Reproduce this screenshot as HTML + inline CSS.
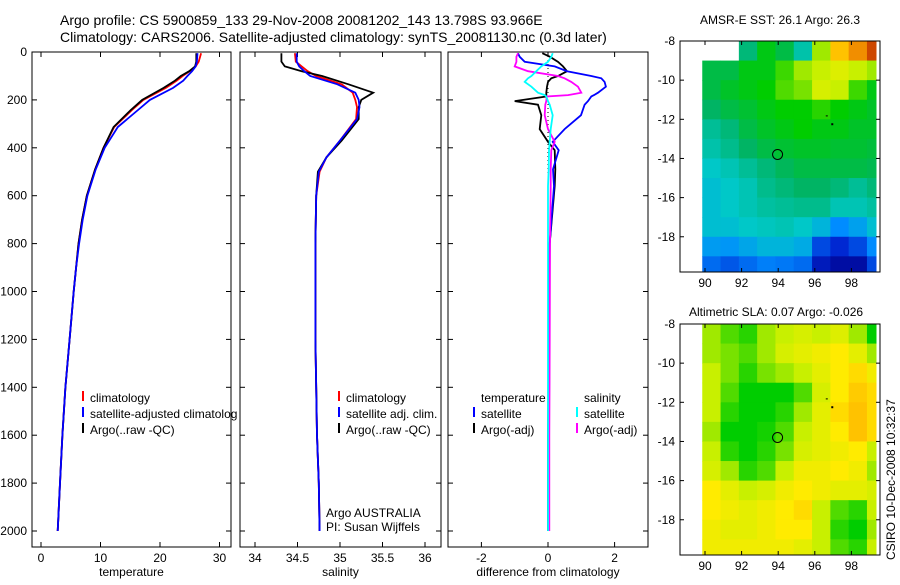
<!DOCTYPE html>
<html><head><meta charset="utf-8"><style>
body{margin:0;background:#fff;}
svg text{font-family:"Liberation Sans",sans-serif;font-size:12px;fill:#000;}
</style></head><body>
<svg id="fig" width="900" height="580" xmlns="http://www.w3.org/2000/svg">
<text x="60" y="25" style="font-size:14px">Argo profile: CS 5900859_133 29-Nov-2008 20081202_143 13.798S 93.966E</text>
<text x="60" y="42" style="font-size:14px">Climatology: CARS2006. Satellite-adjusted climatology: synTS_20081130.nc (0.3d later)</text>
<text x="780" y="24" text-anchor="middle">AMSR-E SST: 26.1 Argo: 26.3</text>
<text x="776" y="316" text-anchor="middle">Altimetric SLA: 0.07 Argo: -0.026</text>
<text transform="translate(895,560) rotate(-90)">CSIRO 10-Dec-2008 10:32:37</text>
</svg>
<script>
const depths=[5,40,60,80,100,120,150,200,242,313,400,490,600,700,800,900,1000,1200,1400,1600,1800,2000];
const tClim=[26.9,26.5,26.0,25.0,23.8,22.8,21.0,17.2,15.3,12.3,10.5,9.1,7.7,6.9,6.3,5.9,5.5,4.8,4.1,3.6,3.2,2.8];
const tArgo=[26.1,26.1,25.9,24.9,23.5,22.5,20.6,17.0,15.1,12.2,10.5,9.1,7.7,6.9,6.3,5.9,5.5,4.8,4.1,3.6,3.2,2.8];
const tSat=[26.3,26.2,26.0,25.4,24.6,23.9,22.2,18.3,16.3,12.9,10.7,9.2,7.8,7.0,6.4,5.9,5.5,4.8,4.1,3.6,3.2,2.8];
const sDepths=[5,40,60,80,100,135,170,200,230,280,370,440,500,600,800,1000,1200,1400,1600,1800,2000];
const sArgo=[34.31,34.31,34.35,34.55,34.79,35.10,35.39,35.25,35.22,35.22,35.02,34.84,34.74,34.72,34.71,34.71,34.71,34.72,34.73,34.75,34.76];
const sClim=[34.47,34.48,34.55,34.62,34.72,35.02,35.15,35.18,35.2,35.19,35.0,34.84,34.76,34.72,34.71,34.71,34.71,34.72,34.73,34.75,34.76];
const sSat=[34.49,34.49,34.52,34.58,34.65,34.97,35.18,35.22,35.23,35.2,35.0,34.84,34.75,34.72,34.71,34.71,34.71,34.72,34.73,34.75,34.76];
const dDepths=[5,20,41,60,80,100,110,125,145,170,180,186,205,220,264,322,375,410,490,560,800,1200,1600,2000];
const dTsat=[-0.9,-0.85,-0.7,0.2,0.57,1.3,1.6,1.7,1.74,1.5,1.38,1.3,1.2,1.1,0.99,0.5,0.14,0.32,0.15,0.18,0.05,0.04,0.03,0.03];
const dTargo=[-0.17,0.06,0.3,0.45,0.57,0.3,0.1,0.0,-0.03,-0.05,-0.05,-0.05,-1.0,-0.3,-0.2,-0.25,0.0,0.2,0.22,0.2,0.05,0.02,0.0,0.0];
const dSargo=[-0.9,-0.95,-0.95,-1.0,-0.6,0.3,0.5,0.7,0.9,1.0,0.6,-0.04,-0.05,-0.08,-0.1,0.0,0.2,0.1,0.08,0.08,0.06,0.05,0.04,0.04];
const dSsat=[0.14,0.1,0.0,-0.2,-0.35,-0.5,-0.6,-0.7,-0.5,-0.3,-0.1,-0.05,0.0,0.05,0.14,0.08,0.05,0.03,0.02,0.0,0.0,0.0,0.0,0.0];
const depthTicks=[0,200,400,600,800,1000,1200,1400,1600,1800,2000];
const tTicks=[0,10,20,30], sTicks=[34,34.5,35,35.5,36], dTicks=[-2,0,2];
const lonTicks=[90,92,94,96,98], latTicks=[-8,-10,-12,-14,-16,-18];
const mapLons=[90,91,92,93,94,95,96,97,98,99];
const mapLats=[-8,-9,-10,-11,-12,-13,-14,-15,-16,-17,-18,-19];
const sst=[
[null,null,0.5,0.6,0.55,0.45,0.7,0.85,0.9,0.95],
[0.55,0.55,0.6,0.6,0.65,0.7,0.72,0.75,0.72,0.7],
[0.55,0.58,0.6,0.62,0.66,0.68,0.74,0.72,0.65,0.6],
[0.52,0.55,0.57,0.6,0.62,0.62,0.64,0.62,0.6,0.58],
[0.47,0.5,0.55,0.58,0.6,0.62,0.6,0.6,0.58,0.58],
[0.45,0.48,0.52,0.55,0.57,0.58,0.58,0.57,0.57,0.56],
[0.42,0.44,0.47,0.5,0.53,0.55,0.55,0.55,0.55,0.54],
[0.4,0.42,0.44,0.48,0.5,0.52,0.52,0.5,0.47,0.5],
[0.4,0.42,0.44,0.46,0.47,0.48,0.48,0.44,0.44,0.46],
[0.4,0.4,0.42,0.43,0.44,0.42,0.38,0.3,0.34,0.4],
[0.33,0.32,0.35,0.38,0.38,0.36,0.2,0.15,0.2,0.3],
[0.25,0.22,0.25,0.28,0.27,0.25,0.1,0.05,0.05,0.2]];
const sla=[
[0.7,0.66,0.64,0.7,0.72,0.74,0.72,0.75,0.7,0.62],
[0.7,0.68,0.66,0.7,0.74,0.76,0.78,0.8,0.76,0.7],
[0.72,0.68,0.64,0.68,0.7,0.72,0.76,0.8,0.82,0.78],
[0.72,0.66,0.62,0.62,0.62,0.66,0.74,0.8,0.84,0.82],
[0.72,0.64,0.62,0.62,0.64,0.7,0.76,0.82,0.85,0.82],
[0.7,0.62,0.62,0.63,0.66,0.72,0.76,0.8,0.85,0.82],
[0.72,0.64,0.62,0.64,0.68,0.74,0.76,0.78,0.8,0.72],
[0.74,0.7,0.64,0.66,0.72,0.78,0.78,0.8,0.78,0.7],
[0.8,0.76,0.72,0.74,0.78,0.8,0.78,0.76,0.76,0.74],
[0.8,0.78,0.76,0.78,0.8,0.82,0.72,0.66,0.64,0.72],
[0.78,0.76,0.76,0.78,0.8,0.8,0.72,0.64,0.62,0.7],
[0.78,0.78,0.78,0.78,0.78,0.76,0.72,0.66,0.64,0.72]];
const argoLon=93.966, argoLat=-13.798;

const svg=document.getElementById('fig');
const NS='http://www.w3.org/2000/svg';
function mk(tag,attrs,parent){const e=document.createElementNS(NS,tag);for(const k in attrs)e.setAttribute(k,attrs[k]);(parent||svg).appendChild(e);return e;}
const yD=d=>52+d*0.2395;
const panels=[
 {x0:32,x1:231,xs:v=>41+v*5.95,ticks:tTicks,lab:'temperature',name:'temperature'},
 {x0:240,x1:441,xs:v=>255+(v-34)*85,ticks:sTicks,lab:'salinity',name:'salinity'},
 {x0:448,x1:648,xs:v=>548+v*33.3,ticks:dTicks,lab:'difference from climatology',name:'difference'}];
panels.forEach((p,i)=>{
 const g=mk('g',{});
 
 
 const r=mk('rect',{x:p.x0,y:52,width:p.x1-p.x0,height:495,fill:'none',stroke:'#000'},g);
 
 
 p.ticks.forEach(t=>{const x=p.xs(t);
  mk('line',{x1:x,x2:x,y1:52,y2:57,stroke:'#000'},g);mk('line',{x1:x,x2:x,y1:547,y2:542,stroke:'#000'},g);
  const tx=mk('text',{x:x,y:562,'text-anchor':'middle'},g);tx.textContent=t;
  
  });
 depthTicks.forEach(d=>{const y=yD(d);
  mk('line',{x1:p.x0,x2:p.x0+5,y1:y,y2:y,stroke:'#000'},g);mk('line',{x1:p.x1,x2:p.x1-5,y1:y,y2:y,stroke:'#000'},g);
  if(i==0){const tx=mk('text',{x:27,y:y+4,'text-anchor':'end'},g);tx.textContent=d;
  
  }});
 const xl=mk('text',{x:(p.x0+p.x1)/2,y:576,'text-anchor':'middle'},g);xl.textContent=p.lab;
 
 
});
function line(ds,vals,xs,col,name){
 const pts=ds.map((d,k)=>xs(vals[k]).toFixed(1)+','+yD(d).toFixed(1)).join(' ');
 const l=mk('polyline',{points:pts,fill:'none',stroke:col,'stroke-width':1.8});
 
 
}
const P=panels;
line(depths,tClim,P[0].xs,'#f00','temp-climatology-line');
line(depths,tArgo,P[0].xs,'#000','temp-argo-line');
line(depths,tSat,P[0].xs,'#00f','temp-satellite-line');
line(sDepths,sClim,P[1].xs,'#f00','sal-climatology-line');
line(sDepths,sArgo,P[1].xs,'#000','sal-argo-line');
line(sDepths,sSat,P[1].xs,'#00f','sal-satellite-line');
const z=mk('line',{x1:P[2].xs(0),x2:P[2].xs(0),y1:52,y2:531,stroke:'#000','stroke-dasharray':'1,3'});


line(dDepths,dTargo,P[2].xs,'#000','diff-temp-argo-line');
line(dDepths,dTsat,P[2].xs,'#00f','diff-temp-satellite-line');
line(dDepths,dSargo,P[2].xs,'#f0f','diff-sal-argo-line');
line(dDepths,dSsat,P[2].xs,'#0ff','diff-sal-satellite-line');
function leg(mx,y,col,txt,name){
 if(col)mk('line',{x1:mx,x2:mx,y1:y-11,y2:y-1,stroke:col,'stroke-width':2});
 const t=mk('text',{x:mx+7,y:y});t.textContent=txt;
 
 
}
leg(83,402,'#f00','climatology','legend-climatology');
leg(83,418,'#00f','satellite-adjusted climatolog','legend-satellite-adjusted');
leg(83,434,'#000','Argo(..raw -QC)','legend-argo');
leg(339,402,'#f00','climatology','legend-sal-climatology');
leg(339,418,'#00f','satellite adj. clim.','legend-sal-satellite');
leg(339,434,'#000','Argo(..raw -QC)','legend-sal-argo');
leg(319,517,null,'Argo AUSTRALIA','argo-australia-label');
leg(319,531,null,'PI: Susan Wijffels','pi-label');
leg(474,402,null,'temperature','legend-temperature-header');
leg(474,418,'#00f','satellite','legend-temp-satellite');
leg(474,434,'#000','Argo(-adj)','legend-temp-argo');
leg(577,402,null,'salinity','legend-salinity-header');
leg(577,418,'#0ff','satellite','legend-sal-sat');
leg(577,434,'#f0f','Argo(-adj)','legend-sal-argo-adj');
const stops=[[0,[0,0,140]],[0.15,[0,40,210]],[0.3,[0,140,255]],[0.42,[0,200,200]],[0.52,[0,180,100]],[0.62,[0,205,0]],[0.72,[200,240,0]],[0.8,[255,235,0]],[0.88,[255,170,0]],[1,[170,0,0]]];
function cmap(v){for(let i=1;i<stops.length;i++){if(v<=stops[i][0]){const a=stops[i-1],b=stops[i],f=(v-a[0])/(b[0]-a[0]);return 'rgb('+a[1].map((c,k)=>Math.round(c+(b[1][k]-c)*f)).join(',')+')';}}return 'rgb(170,0,0)';}
function map(top,data,name){
 const bottom=top+231;
 const lx=v=>705+(v-90)*18.3, ly=v=>top+(-8-v)*(231/11.8);
 const g=mk('g',{});
 
 
 mapLats.forEach((la,r)=>mapLons.forEach((lo,c)=>{const v=data[r][c];if(v===null)return;
  const x0=Math.max(lx(lo-0.15),702),x1=Math.min(lx(lo+0.85),876),y0=ly(la),y1=Math.min(ly(la-1),bottom);
  const cell=mk('rect',{x:x0,y:y0,width:x1-x0+0.5,height:y1-y0+0.5,fill:cmap(v)},g);
  
  }));
 mk('rect',{x:680,y:top,width:200,height:231,fill:'none',stroke:'#000'},g);
 lonTicks.forEach(t=>{const x=lx(t);mk('line',{x1:x,x2:x,y1:bottom,y2:bottom-4,stroke:'#000'},g);mk('line',{x1:x,x2:x,y1:top,y2:top+4,stroke:'#000'},g);
  const tx=mk('text',{x:x,y:bottom+15,'text-anchor':'middle'},g);tx.textContent=t;
  
  });
 latTicks.forEach(t=>{const y=ly(t);mk('line',{x1:680,x2:684,y1:y,y2:y,stroke:'#000'},g);mk('line',{x1:880,x2:876,y1:y,y2:y,stroke:'#000'},g);
  const tx=mk('text',{x:675,y:y+4,'text-anchor':'end'},g);tx.textContent=t;
  
  });
 const c=mk('circle',{cx:lx(argoLon),cy:ly(argoLat),r:5,fill:'none',stroke:'#000'},g);
 
 
 mk('rect',{x:lx(96.9),y:ly(-12.2),width:2,height:2,fill:'#000'},g);
 mk('rect',{x:lx(96.6),y:ly(-11.8),width:2,height:1,fill:'#000'},g);
}
map(41,sst,'sst-map');
map(324,sla,'sla-map');
</script>
</body></html>
